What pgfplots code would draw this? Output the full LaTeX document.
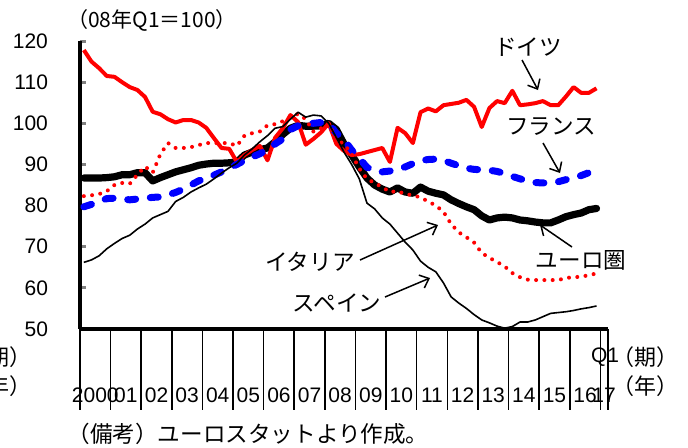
\documentclass[border=0pt]{standalone}
\usepackage{fontspec}
\setmainfont{Liberation Sans}
\newfontfamily\jp{Noto Sans CJK JP}
\usepackage{pgfplots}
\usepackage{pgfplotstable}
\pgfplotsset{compat=1.18}
\usetikzlibrary{arrows.meta}

% Quarterly index, 2008Q1 = 100; k = 0 is 2000Q1
\pgfplotstableread{
k  de    fr    ea    it    es
0  117.8 79.7  86.7  82.3  66.2
1  115.0 80.3  86.7  82.5  66.8
2  113.4 81.0  86.7  82.8  67.8
3  111.5 81.7  86.8  83.5  69.5
4  111.3 81.8  87.0  85.0  70.8
5  110.0 81.6  87.5  85.5  72.0
6  108.8 81.4  87.5  85.3  72.8
7  108.1 81.6  88.0  87.5  74.3
8  106.4 81.8  88.0  89.5  75.5
9  102.8 82.0  86.0  88.0  77.0
10 102.2 82.1  86.8  92.5  77.8
11 101.0 82.6  87.5  95.2  78.6
12 100.2 83.2  88.2  94.0  81.0
13 100.8 84.0  88.7  94.0  82.0
14 100.8 85.0  89.2  94.2  83.3
15 100.2 86.0  89.8  94.7  84.3
16 98.9  86.7  90.1  95.2  85.2
17 96.4  87.4  90.3  95.2  86.5
18 94.0  88.2  90.3  95.2  87.9
19 93.8  89.2  90.4  95.2  89.2
20 90.6  90.0  90.6  94.5  90.3
21 92.3  91.0  92.3  97.0  92.3
22 93.5  91.8  93.0  97.6  93.8
23 94.5  92.6  93.6  98.0  95.5
24 91.0  93.6  94.0  99.5  97.0
25 96.5  95.0  95.5  99.8  98.8
26 98.8  96.2  97.3  100.5 99.2
27 102.0 98.5  98.8  101.5 101.0
28 100.3 99.4  99.5  102.3 102.7
29 94.8  99.6  99.3  101.0 101.5
30 96.2  100.0 99.3  98.0  102.0
31 97.8  100.2 99.4  98.8  101.8
32 100.0 100.0 100.0 100.0 100.0
33 95.0  97.6  98.5  96.0  96.5
34 93.3  96.0  95.0  95.0  93.0
35 92.3  93.5  92.3  92.5  90.0
36 92.5  91.5  89.4  89.0  86.5
37 93.0  89.3  86.7  86.5  80.6
38 93.5  88.4  85.0  85.5  79.2
39 94.0  88.2  84.0  84.5  77.0
40 90.6  88.4  83.3  83.3  75.5
41 98.9  88.8  84.3  83.5  73.3
42 97.6  89.4  83.3  82.8  71.1
43 95.2  90.2  83.0  82.5  69.2
44 102.7 90.9  84.5  82.0  66.5
45 103.6 91.2  83.5  81.0  65.0
46 102.9 91.3  83.0  80.0  63.9
47 104.4 91.0  82.6  78.5  61.2
48 104.7 90.3  81.4  75.5  57.8
49 105.0 89.7  80.5  73.5  56.3
50 105.7 89.1  79.7  72.3  55.0
51 104.0 88.8  79.0  71.0  53.5
52 99.1  88.7  77.5  68.5  52.2
53 103.7 88.6  76.5  67.3  51.5
54 105.4 88.3  77.0  66.3  50.7
55 104.9 87.8  77.2  65.2  50.2
56 107.9 87.1  77.0  63.6  50.6
57 104.4 86.5  76.5  62.6  51.7
58 104.6 86.0  76.3  62.0  51.7
59 104.9 85.6  76.0  61.9  52.2
60 105.4 85.5  75.8  61.9  53.0
61 104.4 85.5  75.8  61.9  53.8
62 104.4 85.8  76.5  61.9  54.0
63 106.5 86.3  77.3  62.4  54.2
64 108.8 86.8  77.8  62.6  54.5
65 107.4 87.3  78.2  62.7  54.9
66 107.4 88.0  79.0  63.1  55.2
67 108.5 88.7  79.3  63.5  55.6
}\datatable

\begin{document}
\begin{tikzpicture}
\begin{axis}[
  at={(0,0)}, anchor=south west,
  width=264pt, height=144pt, scale only axis,
  xmin=-0.5, xmax=68.5, ymin=50, ymax=120,
  axis x line*=bottom, axis y line*=left,
  axis line style={-, line width=1.6pt},
  tick align=outside,
  major tick length=3pt,
  ytick={50,60,...,120},
  ytick style={line width=1.5pt, xshift=3pt},
  yticklabel style={xshift=-9.5pt},
  xtick=\empty,
  extra x ticks={1.5,5.5,9.5,13.5,17.5,21.5,25.5,29.5,33.5,37.5,41.5,45.5,49.5,53.5,57.5,61.5,65.5,68},
  extra x tick labels={2000,01,02,03,04,05,06,07,08,09,10,11,12,13,14,15,16,17},
  extra x tick style={major tick length=0pt, tick style={draw=none}, tick label style={anchor=center, yshift=-33pt}},
  tick label style={font=\fontsize{10.5}{12}\selectfont},
  /pgf/number format/assume math mode=true,
  clip=false,
]
% year boundaries hanging below the axis
\pgfplotsinvokeforeach{-0.5,3.5,7.5,11.5,15.5,19.5,23.5,27.5,31.5,35.5,39.5,43.5,47.5,51.5,55.5,59.5,63.5,67.5,68.5}{
  \draw[line width=0.8pt] (axis cs:#1,50) -- ([yshift=-40.5pt]axis cs:#1,50);
}
\addplot[black, line width=3.6pt, line join=round, line cap=round] table[x=k, y=ea] {\datatable};
\addplot[red, line width=2pt, line join=round] table[x=k, y=de] {\datatable};
\addplot[blue, line width=3.5pt, line cap=round, line join=round, dash pattern=on 4pt off 7.35pt] table[x=k, y=fr] {\datatable};
\addplot[red, line width=2pt, line cap=round, dash pattern=on 0pt off 4.15pt] table[x=k, y=it] {\datatable};
\addplot[black, line width=0.8pt, line join=round] table[x=k, y=es] {\datatable};
\end{axis}

% unit note and axis captions
\node[font=\jp\fontsize{10.5}{12}\selectfont] at (36pt,154.5pt) {（08年Q1＝100）};
\node[font=\fontsize{10.5}{12}\selectfont] at (262.5pt,-14pt) {Q1};
\node[font=\jp\fontsize{11}{13}\selectfont] at (282.5pt,-14pt) {（期）};
\node[font=\jp\fontsize{11}{13}\selectfont] at (282.5pt,-28.5pt) {（年）};
\node[font=\jp\fontsize{11}{13}\selectfont] at (-40.5pt,-14pt) {（期）};
\node[font=\jp\fontsize{11}{13}\selectfont] at (-40.5pt,-28.5pt) {（年）};
\node[font=\jp\fontsize{11.3}{13}\selectfont, anchor=west, inner sep=0pt] at (-6.5pt,-52.5pt) {（備考）ユーロスタットより作成。};

% series labels
\begin{scope}[font=\jp\fontsize{11.3}{13}\selectfont]
\node at (224pt,141pt) {ドイツ};
\node at (235.5pt,101pt) {フランス};
\node at (250.5pt,34.5pt) {ユーロ圏};
\node at (115pt,33.5pt) {イタリア};
\node at (128.5pt,13pt) {スペイン};
\end{scope}
\begin{scope}[line width=0.75pt, -{Straight Barb[length=4pt,width=7pt]}]
\draw (221pt,134.5pt) -- (229pt,119.5pt);
\draw (231.5pt,93pt) -- (240pt,78pt);
\draw (246pt,41pt) -- (230pt,52pt);
\draw (140pt,34.5pt) -- (179pt,52pt);
\draw (152.5pt,16pt) -- (175pt,25.5pt);
\end{scope}

\pgfresetboundingbox
\useasboundingbox (-40pt,-59pt) rectangle (304pt,164.5pt);
\end{tikzpicture}
\end{document}
